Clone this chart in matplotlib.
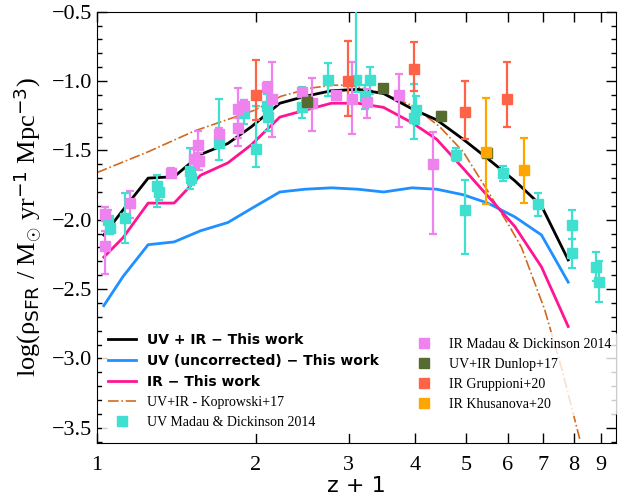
import numpy as np
import matplotlib
matplotlib.use('Agg')
import matplotlib.pyplot as plt
from matplotlib.lines import Line2D
from matplotlib.ticker import FixedLocator, NullLocator, MultipleLocator, FuncFormatter

# curves from this work, sampled on the same z+1 grid
zp1_work = [1.03, 1.12, 1.25, 1.40, 1.57, 1.77, 1.96, 2.22, 2.48, 2.78,
            3.12, 3.49, 3.95, 4.40, 4.94, 5.50, 6.19, 6.95, 7.81]
uvir_work = [-2.11, -1.93, -1.70, -1.69, -1.53, -1.45, -1.33, -1.16, -1.11, -1.07,
             -1.06, -1.09, -1.20, -1.28, -1.42, -1.56, -1.72, -1.90, -2.29]
uv_work = [-2.62, -2.41, -2.18, -2.16, -2.08, -2.02, -1.92, -1.80, -1.78, -1.77,
           -1.78, -1.80, -1.77, -1.78, -1.82, -1.88, -1.98, -2.11, -2.45]
ir_work = [-2.27, -2.13, -1.88, -1.88, -1.68, -1.59, -1.46, -1.26, -1.21, -1.16,
           -1.16, -1.19, -1.30, -1.42, -1.63, -1.83, -2.05, -2.34, -2.77]

# Koprowski+17 curve
zp1_kop = [1.00, 1.25, 1.53, 1.99, 2.23, 2.55, 2.80, 2.99, 3.10, 3.49, 3.97,
           4.46, 4.94, 5.47, 6.05, 6.37, 7.05, 7.60, 8.21]
kop = [-1.66, -1.51, -1.36, -1.21, -1.11, -1.05, -1.03, -1.03, -1.04, -1.09, -1.18,
       -1.33, -1.51, -1.78, -2.05, -2.20, -2.65, -3.08, -3.58]

# UV Madau & Dickinson 2014
uv_md_x = [1.05, 1.06, 1.13, 1.30, 1.31, 1.50, 1.51, 1.70, 1.90, 2.00, 2.10, 2.11,
           2.45, 2.74, 3.09, 3.22, 3.29, 3.99, 4.02, 4.78, 4.98, 5.87, 6.85, 7.93,
           7.93, 8.83, 8.93]
uv_md_y = [-2.00, -2.06, -1.99, -1.76, -1.80, -1.65, -1.70, -1.45, -1.23, -1.49,
           -1.18, -1.26, -1.19, -0.99, -0.99, -1.11, -0.99, -1.27, -1.21, -1.53,
           -1.93, -1.66, -1.89, -2.04, -2.24, -2.34, -2.45]
uv_md_lo = [-2.09, -2.10, -2.17, -1.91, -1.86, -1.78, -1.75, -1.57, -1.31, -1.62,
            -1.28, -1.36, -1.27, -1.11, -1.08, -1.20, -1.09, -1.42, -1.31, -1.58,
            -2.25, -1.72, -1.97, -2.14, -2.35, -2.44, -2.59]
uv_md_hi = [-1.93, -2.02, -1.81, -1.68, -1.74, -1.48, -1.65, -1.13, -1.14, -1.18,
            -1.09, -1.16, -1.04, -0.87, -0.39, -1.03, -0.90, -1.02, -1.11, -1.48,
            -1.71, -1.61, -1.81, -1.93, -2.14, -2.23, -2.30]

# IR Madau & Dickinson 2014
ir_md_x = [1.035, 1.035, 1.155, 1.38, 1.53, 1.555, 1.56, 1.70, 1.85, 1.85, 1.90,
           2.10, 2.15, 2.45, 2.55, 2.84, 3.04, 3.24, 3.74, 4.33]
ir_md_y = [-1.96, -2.19, -1.88, -1.66, -1.56, -1.46, -1.58, -1.38, -1.20, -1.34,
           -1.18, -1.04, -1.13, -1.08, -1.16, -1.10, -1.13, -1.15, -1.10, -1.60]
ir_md_lo = [-2.01, -2.39, -1.99, -1.69, -1.63, -1.54, -1.64, -1.42, -1.47, -1.41,
            -1.22, -1.07, -1.40, -1.11, -1.36, -1.12, -1.38, -1.27, -1.33, -2.10]
ir_md_hi = [-1.91, -2.08, -1.79, -1.63, -1.49, -1.36, -1.52, -1.34, -1.05, -1.27,
            -1.14, -1.01, -0.86, -1.05, -0.98, -1.08, -0.86, -1.06, -0.95, -1.37]

# UV+IR Dunlop+17
dun_x = [2.495, 3.485, 4.48, 5.47]
dun_y = [-1.15, -1.05, -1.25, -1.52]
dun_lo = [-1.19, -1.07, -1.28, -1.55]
dun_hi = [-1.11, -1.03, -1.22, -1.49]

# IR Gruppioni+20
gru_x = [2.00, 2.99, 3.99, 4.98, 5.98]
gru_y = [-1.10, -1.00, -0.91, -1.22, -1.13]
gru_lo = [-1.28, -1.25, -1.07, -1.42, -1.33]
gru_hi = [-0.85, -0.71, -0.72, -1.00, -0.86]

# IR Khusanova+20
khu_x = [5.45, 6.44]
khu_y = [-1.51, -1.64]
khu_lo = [-1.89, -1.88]
khu_hi = [-1.12, -1.41]

c_uv_md = '#40E0D0'
c_ir_md = '#EE82EE'
c_dun = '#556B2F'
c_gru = '#FF6347'
c_khu = '#FFA500'

plt.rcParams['font.family'] = ['Liberation Serif', 'DejaVu Serif']
plt.rcParams['mathtext.fontset'] = 'custom'
plt.rcParams['mathtext.rm'] = 'Liberation Serif'
plt.rcParams['mathtext.it'] = 'Liberation Serif'
plt.rcParams['mathtext.sf'] = 'DejaVu Sans'

fig = plt.figure(figsize=(6.24, 5.01), dpi=100)
ax = fig.add_axes([97 / 624, 1 - 443 / 501, 519 / 624, 431.3 / 501])


def points(x, y, lo, hi, color):
  x = np.array(x)
  y = np.array(y)
  yerr = [y - np.array(lo), np.array(hi) - y]
  ax.errorbar(x, y, yerr=yerr, fmt='s', color=color, ms=6.5, capsize=3.2,
              elinewidth=1.6, capthick=1.6, zorder=3)


ax.plot(zp1_kop, kop, color='#D2691E', ls='-.', lw=1.2, zorder=2)
ax.plot(zp1_work, uv_work, color='#1E90FF', lw=2, zorder=2)
ax.plot(zp1_work, ir_work, color='#FF1493', lw=2, zorder=2)
ax.plot(zp1_work, uvir_work, color='black', lw=2, zorder=2)

points(uv_md_x, uv_md_y, uv_md_lo, uv_md_hi, c_uv_md)
points(ir_md_x, ir_md_y, ir_md_lo, ir_md_hi, c_ir_md)
points(dun_x, dun_y, dun_lo, dun_hi, c_dun)
points(gru_x, gru_y, gru_lo, gru_hi, c_gru)
points(khu_x, khu_y, khu_lo, khu_hi, c_khu)

ax.set_xscale('log')
ax.set_xlim(1, 9.62)
ax.set_ylim(-3.61, -0.5)
ax.xaxis.set_major_locator(FixedLocator([1, 2, 3, 4, 5, 6, 7, 8, 9]))
ax.xaxis.set_minor_locator(NullLocator())
ax.xaxis.set_major_formatter(FuncFormatter(lambda v, p: '%d' % round(v)))
ax.yaxis.set_major_locator(MultipleLocator(0.5))
ax.yaxis.set_minor_locator(MultipleLocator(0.1))
ax.tick_params(which='both', direction='in', top=True, right=True, labelsize=16)
ax.tick_params(which='major', length=7, width=1)
ax.tick_params(which='minor', length=3.5, width=1)
ax.tick_params(axis='x', pad=9)

ax.set_xlabel('z + 1', family='DejaVu Sans', fontsize=16, labelpad=1)
ax.set_ylabel(r'log($\rho_{\mathsf{SFR}}$ / M$_{\odot}$ yr$^{\mathsf{-1}}$ Mpc$^{\mathsf{-3}}$)',
              fontsize=19, labelpad=6)

left_handles = [
  Line2D([], [], color='black', lw=2),
  Line2D([], [], color='#1E90FF', lw=2),
  Line2D([], [], color='#FF1493', lw=2),
  Line2D([], [], color='#D2691E', ls='-.', lw=1.2),
  Line2D([], [], color=c_uv_md, marker='s', ls='none', ms=6.5),
]
left_labels = ['UV + IR \u2212 This work', 'UV (uncorrected) \u2212 This work',
               'IR \u2212 This work', 'UV+IR - Koprowski+17',
               'UV Madau & Dickinson 2014']
leg1 = ax.legend(left_handles, left_labels, loc='lower left',
                 bbox_to_anchor=(0.01, 0.02), fontsize=10, labelspacing=0.5,
                 frameon=True, framealpha=0.8, edgecolor='none', borderaxespad=0)
for t in leg1.get_texts()[:3]:
  t.set_fontfamily('DejaVu Sans')
  t.set_fontweight('bold')
ax.add_artist(leg1)

right_handles = [Line2D([], [], color=c, marker='s', ls='none', ms=6.5)
                 for c in [c_ir_md, c_dun, c_gru, c_khu]]
right_labels = ['IR Madau & Dickinson 2014', 'UV+IR Dunlop+17',
                'IR Gruppioni+20', 'IR Khusanova+20']
ax.legend(right_handles, right_labels, loc='lower left',
          bbox_to_anchor=(0.592, 0.062), fontsize=10, labelspacing=0.5,
          frameon=True, framealpha=0.8, edgecolor='none', borderaxespad=0)

fig.savefig('out.png', dpi=100)
